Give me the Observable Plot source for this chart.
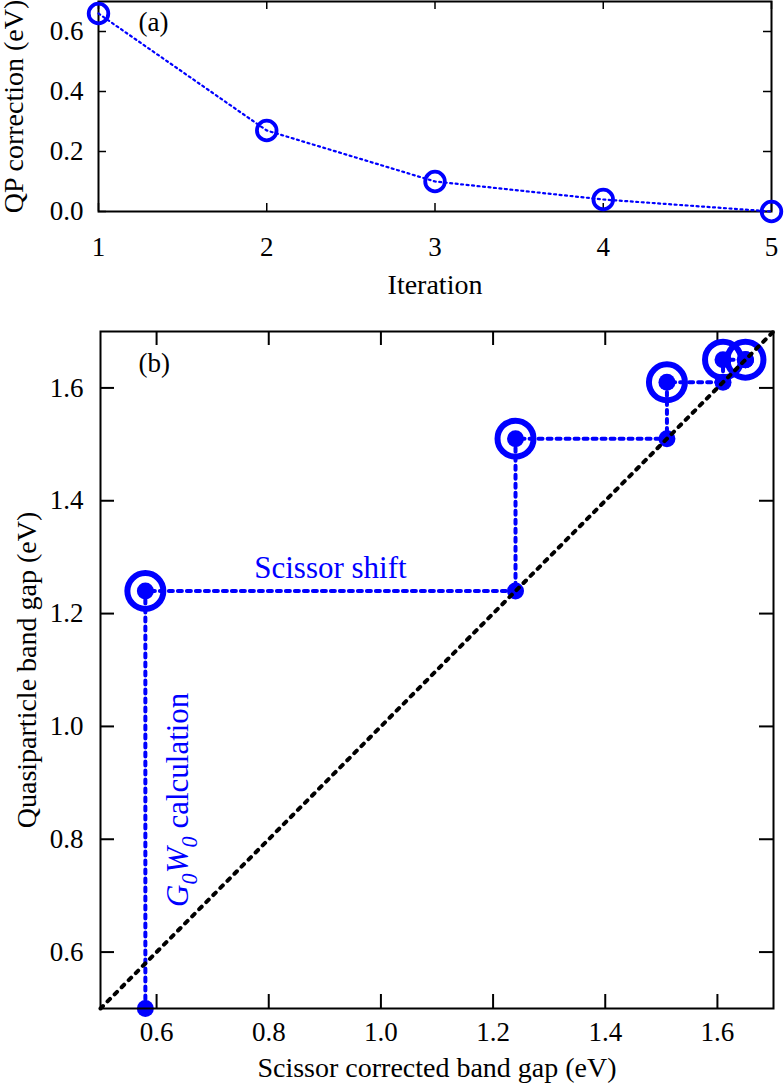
<!DOCTYPE html>
<html><head><meta charset="utf-8">
<script src="https://cdn.jsdelivr.net/npm/d3@7"></script>
<script src="https://cdn.jsdelivr.net/npm/@observablehq/plot@0.6"></script>
<style>
html,body{margin:0;padding:0;background:#fff;}
#chart svg{display:block;overflow:visible;}
#chart svg text{font-family:'Liberation Serif','Times New Roman',serif !important;}
</style></head><body><div id="chart"></div>
<script>
// ---- data ----
const iterations = [1, 2, 3, 4, 5];
const qpCorrection = [0.66, 0.27, 0.10, 0.04, 0.0];
const iterTicks = [1, 2, 3, 4, 5];
const corrTicks = [0.0, 0.2, 0.4, 0.6];

const scissorGap = [0.58, 1.24, 1.51, 1.61, 1.65];
const quasiGap   = [1.24, 1.51, 1.61, 1.65, 1.65];
const gapTicks = [0.6, 0.8, 1.0, 1.2, 1.4, 1.6];
const gapDomain = [0.5, 1.7];

// ---- styles ----
const blue = "#0000ff";
const serif = "Liberation Serif";
const chart = document.getElementById("chart");

// ---- panel (a) ----
const aData = iterations.map((it, i) => ({it, v: qpCorrection[i]}));
const aW = 784, aH = 305, aML = 98, aMR = 13, aMT = 1, aMB = 94;
const aFH = aH - aMT - aMB, aFW = aW - aML - aMR, tA = 8;
const plotA = Plot.plot({
  width: aW, height: aH, marginLeft: aML, marginRight: aMR, marginTop: aMT, marginBottom: aMB,
  style: {fontFamily: serif, fontSize: "27px", color: "#000", background: "#fff"},
  x: {domain: [1, 5], axis: null},
  y: {domain: [0, 0.7], axis: null},
  marks: [
    Plot.tickX(iterTicks, {x: d => d, insetTop: aFH - tA, stroke: "#000", strokeWidth: 1.5}),
    Plot.tickX(iterTicks, {x: d => d, insetBottom: aFH - tA, stroke: "#000", strokeWidth: 1.5}),
    Plot.tickY(corrTicks, {y: d => d, insetRight: aFW - tA, stroke: "#000", strokeWidth: 1.5}),
    Plot.tickY(corrTicks, {y: d => d, insetLeft: aFW - tA, stroke: "#000", strokeWidth: 1.5}),
    Plot.frame({stroke: "#000", strokeWidth: 2}),
    Plot.axisX(iterTicks, {tickSize: 0, tickPadding: 25, tickFormat: d3.format("d"), label: null, fontSize: 27, fontFamily: serif, fontVariant: "normal"}),
    Plot.axisY(corrTicks, {tickSize: 0, tickPadding: 15, tickFormat: d3.format(".1f"), label: null, fontSize: 27, fontFamily: serif, fontVariant: "normal"}),
    Plot.text(["Iteration"], {frameAnchor: "bottom", dy: 74, text: d => d, fontSize: 28, fontFamily: serif, textAnchor: "middle", lineAnchor: "middle"}),
    Plot.text(["QP correction (eV)"], {frameAnchor: "left", dx: -84, rotate: -90, text: d => d, fontSize: 28, fontFamily: serif, textAnchor: "middle", lineAnchor: "middle"}),
    Plot.text(["(a)"], {frameAnchor: "top-left", dx: 40, dy: 21, text: d => d, fontSize: 27, fontFamily: serif, textAnchor: "start", lineAnchor: "middle"}),
    Plot.line(aData, {x: "it", y: "v", stroke: blue, strokeWidth: 2.2, strokeDasharray: "2,3.5"}),
    Plot.dot(aData, {x: "it", y: "v", r: 9.8, stroke: blue, strokeWidth: 3.8, fill: "none"})
  ]
});
chart.appendChild(plotA);

// ---- panel (b) ----
const stair = [{x: scissorGap[0], y: gapDomain[0]}];
scissorGap.forEach((s, i) => {
  stair.push({x: s, y: quasiGap[i]});
  stair.push({x: quasiGap[i], y: quasiGap[i]});
});
const rings = scissorGap.map((s, i) => ({x: s, y: quasiGap[i]}));
const dots = stair;
const diag = gapDomain.map(v => ({x: v, y: v}));

const bW = 784, bH = 780, bML = 100, bMR = 11, bMT = 26, bMB = 77;
const bFH = bH - bMT - bMB, bFW = bW - bML - bMR, tB = 14;
const plotB = Plot.plot({
  width: bW, height: bH, marginLeft: bML, marginRight: bMR, marginTop: bMT, marginBottom: bMB,
  style: {fontFamily: serif, fontSize: "27px", color: "#000", background: "#fff"},
  x: {domain: gapDomain, axis: null},
  y: {domain: gapDomain, axis: null},
  marks: [
    Plot.tickX(gapTicks, {x: d => d, insetTop: bFH - tB, stroke: "#000", strokeWidth: 2}),
    Plot.tickX(gapTicks, {x: d => d, insetBottom: bFH - tB, stroke: "#000", strokeWidth: 2}),
    Plot.tickY(gapTicks, {y: d => d, insetRight: bFW - tB, stroke: "#000", strokeWidth: 2}),
    Plot.tickY(gapTicks, {y: d => d, insetLeft: bFW - tB, stroke: "#000", strokeWidth: 2}),
    Plot.axisX(gapTicks, {tickSize: 0, tickPadding: 13, tickFormat: d3.format(".1f"), label: null, fontSize: 27, fontFamily: serif, fontVariant: "normal"}),
    Plot.axisY(gapTicks, {tickSize: 0, tickPadding: 17, tickFormat: d3.format(".1f"), label: null, fontSize: 27, fontFamily: serif, fontVariant: "normal"}),
    Plot.text(["Scissor corrected band gap (eV)"], {frameAnchor: "bottom", dy: 60, text: d => d, fontSize: 28, fontFamily: serif, textAnchor: "middle", lineAnchor: "middle"}),
    Plot.text(["Quasiparticle band gap (eV)"], {frameAnchor: "left", dx: -73, rotate: -90, text: d => d, fontSize: 28, fontFamily: serif, textAnchor: "middle", lineAnchor: "middle"}),
    Plot.text(["(b)"], {frameAnchor: "top-left", dx: 38, dy: 32, text: d => d, fontSize: 27, fontFamily: serif, textAnchor: "start", lineAnchor: "middle"}),
    Plot.line(stair, {x: "x", y: "y", stroke: blue, strokeWidth: 4, strokeDasharray: "4,5"}),
    Plot.dot(rings, {x: "x", y: "y", r: 18, stroke: blue, strokeWidth: 6, fill: "none"}),
    Plot.dot(dots, {x: "x", y: "y", r: 8.5, fill: blue, stroke: "none"}),
    Plot.line(diag, {x: "x", y: "y", stroke: "#000", strokeWidth: 4, strokeDasharray: "3.5,6.5"}),
    Plot.frame({stroke: "#000", strokeWidth: 2}),
    Plot.text([{x: (scissorGap[0] + quasiGap[0]) / 2, y: quasiGap[0]}], {x: "x", y: "y", dy: -23, text: () => "Scissor shift", fill: blue, fontSize: 31, fontFamily: serif, textAnchor: "middle", lineAnchor: "middle"}),
    Plot.text([{x: scissorGap[0], y: (gapDomain[0] + quasiGap[0]) / 2}], {x: "x", y: "y", dx: 33, rotate: -90, text: () => "G0W0 calculation", fill: blue, fontSize: 31, fontFamily: serif, textAnchor: "middle", lineAnchor: "middle"})
  ]
});
chart.appendChild(plotB);

// subscripts / italics for the G0W0 label
for (const t of plotB.querySelectorAll("text")) {
  if (t.textContent === "G0W0 calculation") {
    t.textContent = "";
    const parts = [
      ["G", true, 0, null],
      ["0", true, 9, "0.72em"],
      ["W", true, -9, null],
      ["0", true, 9, "0.72em"],
      [" calculation", false, -9, null]
    ];
    for (const [s, it, dy, fs] of parts) {
      const sp = document.createElementNS("http://www.w3.org/2000/svg", "tspan");
      sp.textContent = s;
      if (it) sp.setAttribute("font-style", "italic");
      if (dy) sp.setAttribute("dy", dy);
      if (fs) sp.setAttribute("font-size", fs);
      t.appendChild(sp);
    }
  }
}
</script></body></html>
